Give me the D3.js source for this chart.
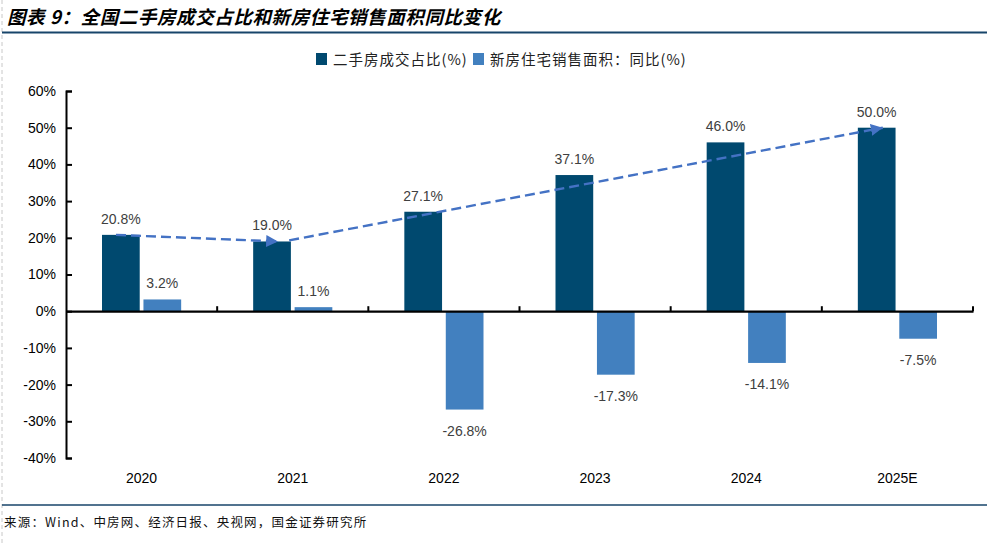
<!DOCTYPE html>
<html>
<head>
<meta charset="utf-8">
<script src="https://cdn.jsdelivr.net/npm/d3@7"></script>
<style>
  body { margin: 0; background: #fff; }
  svg { display: block; }
</style>
</head>
<body>
<div id="chart"></div>
<script>
const years = ['2020', '2021', '2022', '2023', '2024', '2025E'];
const secondHandShare = [20.8, 19.0, 27.1, 37.1, 46.0, 50.0];
const newAreaYoY = [3.2, 1.1, -26.8, -17.3, -14.1, -7.5];
const yTicks = [60, 50, 40, 30, 20, 10, 0, -10, -20, -30, -40];
const seriesNames = ['二手房成交占比(%)', '新房住宅销售面积：同比(%)'];

const width = 987, height = 544;
const darkBlue = '#00496f', lightBlue = '#4280bf', arrowBlue = '#4472c4';
const latin = 'Arial, "Liberation Sans", sans-serif';
const cjk = '"Noto Sans CJK SC", sans-serif';

const svg = d3.select('#chart').append('svg')
    .attr('width', width)
    .attr('height', height);

// frame: dashed left edge, title rule, bottom rule
svg.append('line')
    .attr('x1', 2).attr('x2', 2).attr('y1', 0).attr('y2', height)
    .attr('stroke', '#c8c8c8').attr('stroke-dasharray', '4,3');
svg.append('line')
    .attr('x1', 2).attr('x2', width).attr('y1', 32.5).attr('y2', 32.5)
    .attr('stroke', '#17456a').attr('stroke-width', 2);
svg.append('line')
    .attr('x1', 2).attr('x2', width).attr('y1', 505).attr('y2', 505)
    .attr('stroke', '#17456a').attr('stroke-width', 1.5);

svg.append('text')
    .attr('x', 7).attr('y', 24)
    .style('font-family', cjk).style('font-size', '18.5px')
    .style('font-weight', 'bold').style('font-style', 'italic')
    .style('letter-spacing', '0.6px')
    .text('图表 9：全国二手房成交占比和新房住宅销售面积同比变化');

svg.append('text')
    .attr('x', 4).attr('y', 527)
    .style('font-family', cjk).style('font-size', '12.5px')
    .style('letter-spacing', '1.2px')
    .attr('fill', '#111')
    .text('来源：Wind、中房网、经济日报、央视网，国金证券研究所');

// scales
const x = d3.scaleBand().domain(years).range([66, 973]);
const y = d3.scaleLinear().domain([-40, 60]).range([458, 91]);
const inner = d3.scaleBand().domain([0, 1]).range([36, x.bandwidth() - 36]).paddingInner(0.09);

const g = svg.append('g');

// bars
const series = [secondHandShare, newAreaYoY];
const colors = [darkBlue, lightBlue];
series.forEach((vals, si) => {
    g.selectAll('.bar' + si)
        .data(vals)
        .join('rect')
        .attr('x', (d, i) => x(years[i]) + inner(si))
        .attr('width', inner.bandwidth())
        .attr('y', d => y(Math.max(0, d)))
        .attr('height', d => Math.abs(y(d) - y(0)))
        .attr('fill', colors[si]);

    g.selectAll('.lab' + si)
        .data(vals)
        .join('text')
        .attr('x', (d, i) => x(years[i]) + inner(si) + inner.bandwidth() / 2)
        .attr('y', d => d >= 0 ? y(d) - 11 : y(d) + 26)
        .attr('text-anchor', 'middle')
        .style('font-family', latin).style('font-size', '14px')
        .attr('fill', '#404040')
        .text(d => d.toFixed(1) + '%');
});

// axes
const yAxis = svg.append('g')
    .attr('transform', 'translate(66,0)')
    .call(d3.axisLeft(y).tickValues(yTicks).tickSize(-6).tickPadding(10).tickFormat(d => d + '%'));
yAxis.select('.domain').attr('stroke-width', 2);
yAxis.selectAll('.tick line').attr('stroke-width', 2);
yAxis.selectAll('text').style('font-family', latin).style('font-size', '14px').attr('fill', '#000');

const xAxis = svg.append('g')
    .attr('transform', `translate(0,${y(0)})`)
    .call(d3.axisBottom(x).tickSize(0).tickFormat(''));
xAxis.select('.domain').attr('stroke-width', 2.2);
xAxis.selectAll('.tick').remove();
xAxis.selectAll('.sep')
    .data(years.map(d => x(d) + x.bandwidth()))
    .join('line')
    .attr('x1', d => d).attr('x2', d => d)
    .attr('y1', 0).attr('y2', -5)
    .attr('stroke', '#000').attr('stroke-width', 2);

svg.append('g').selectAll('text')
    .data(years)
    .join('text')
    .attr('x', d => x(d) + x.bandwidth() / 2)
    .attr('y', 483)
    .attr('text-anchor', 'middle')
    .style('font-family', latin).style('font-size', '14px')
    .text(d => d);

// dashed trend arrows over the dark bars
svg.append('defs').append('marker')
    .attr('id', 'arr')
    .attr('viewBox', '0 0 10 10')
    .attr('refX', 10).attr('refY', 5)
    .attr('markerWidth', 5).attr('markerHeight', 5)
    .attr('markerUnits', 'strokeWidth')
    .attr('orient', 'auto')
    .append('path').attr('d', 'M0,0L10,5L0,10z').attr('fill', arrowBlue);

const barLeft = i => x(years[i]) + inner(0);
const arrows = [
    [[barLeft(0) + 14, secondHandShare[0]], [barLeft(1) + 25, secondHandShare[1]]],
    [[barLeft(1) + 36, secondHandShare[1] + 0.3], [barLeft(5) + 25, secondHandShare[5]]]
];
arrows.forEach(a => {
    svg.append('path')
        .attr('d', d3.line().x(p => p[0]).y(p => y(p[1]))(a))
        .attr('fill', 'none')
        .attr('stroke', arrowBlue)
        .attr('stroke-width', 2.4)
        .attr('stroke-dasharray', '10,5')
        .attr('marker-end', 'url(#arr)');
});

// legend
const legend = svg.append('g').attr('transform', 'translate(316,59)');
const legX = [0, 157];
seriesNames.forEach((name, i) => {
    legend.append('rect')
        .attr('x', legX[i]).attr('y', -6)
        .attr('width', 11).attr('height', 12)
        .attr('fill', colors[i]);
    legend.append('text')
        .attr('x', legX[i] + 17).attr('y', 5.5)
        .style('font-family', cjk).style('font-size', '14.5px')
        .style('letter-spacing', '1px')
        .attr('fill', '#222')
        .text(name);
});
</script>
</body>
</html>
